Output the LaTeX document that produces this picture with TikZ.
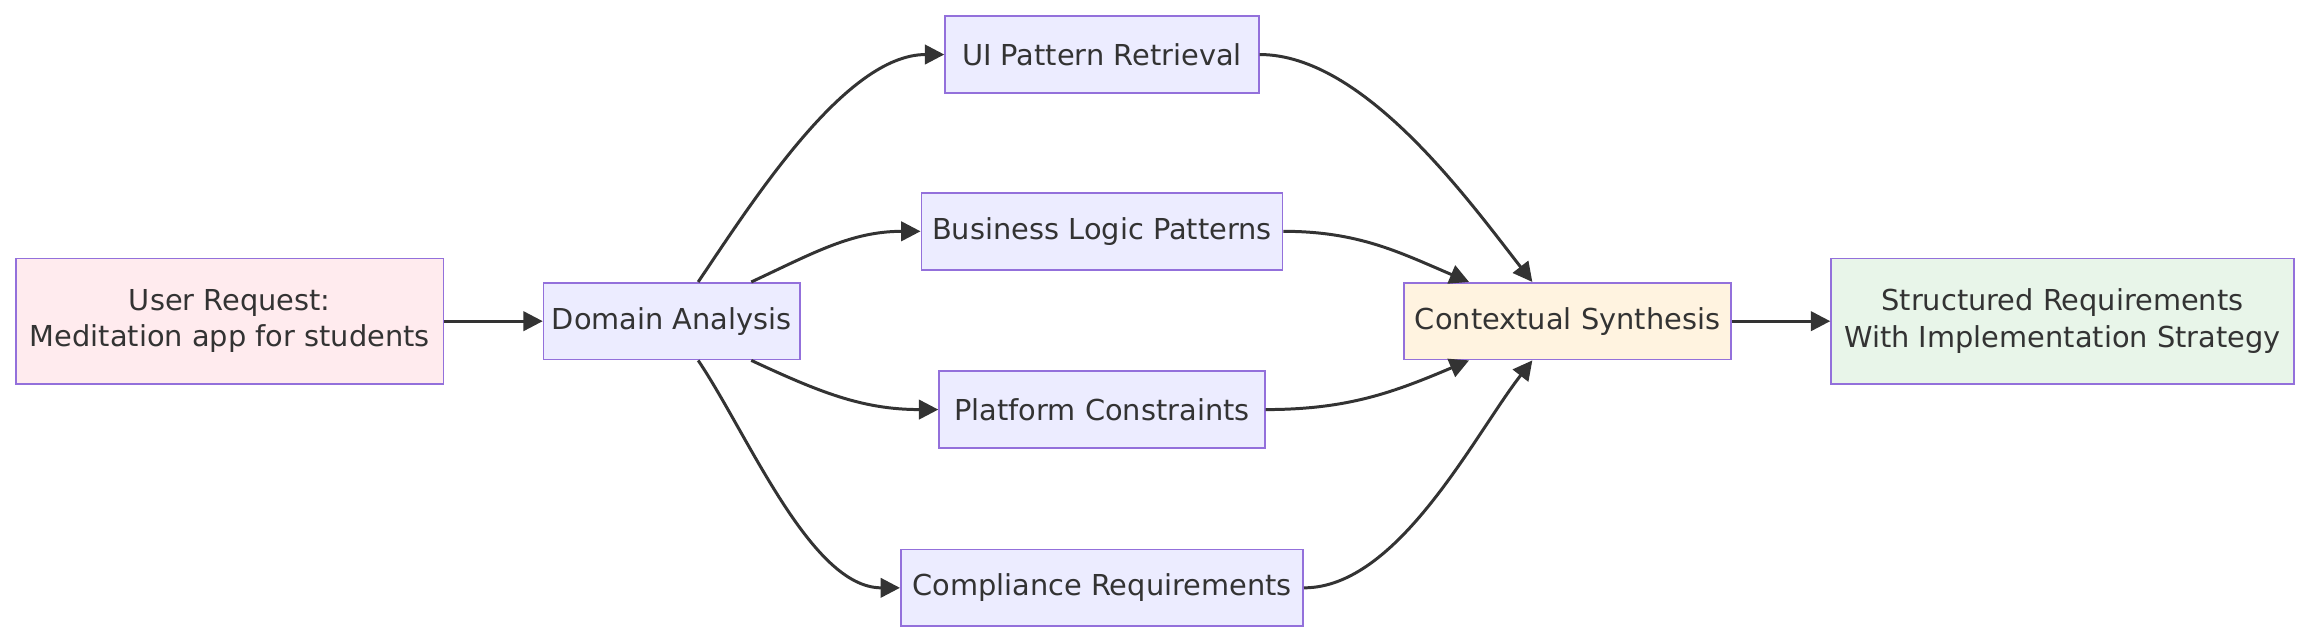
\documentclass[tikz,border=0pt]{standalone}
\usepackage{fontspec}
\setmainfont{DejaVu Sans}
\usetikzlibrary{positioning, arrows.meta}
\definecolor{edge}{HTML}{333333}
\definecolor{boxline}{HTML}{9370DB}
\definecolor{boxfill}{HTML}{ECECFF}
\definecolor{reqfill}{HTML}{FFEBEE}
\definecolor{synfill}{HTML}{FFF3E0}
\definecolor{outfill}{HTML}{E8F5E9}
\tikzset{
  box/.style={draw=boxline, fill=boxfill, line width=0.5pt, align=center,
    inner sep=0pt, minimum height=21.8pt, text=edge,
    font=\fontsize{8.2pt}{10.4pt}\selectfont},
  link/.style={draw=edge, line width=0.85pt, -{Triangle[length=5.5pt,width=5.5pt]}}
}
\begin{document}
\begin{tikzpicture}[x=0.01473cm, y=-0.01473cm]
    \useasboundingbox (0,0) rectangle (1568,437);

    % Knoten
    \node[box, fill=reqfill, minimum width=121.5pt, minimum height=35.6pt] (req) at (156,218) {User Request:\\Meditation app for students};
    \node[box, minimum width=72.9pt] (dom) at (456,218) {Domain Analysis};
    \node[box, minimum width=89.2pt] (ui) at (748,37) {UI Pattern Retrieval};
    \node[box, minimum width=102.7pt] (bl) at (748,157) {Business Logic Patterns};
    \node[box, minimum width=92.6pt] (pc) at (748,278) {Platform Constraints};
    \node[box, minimum width=114.4pt] (cr) at (748,399) {Compliance Requirements};
    \node[box, fill=synfill, minimum width=93pt] (syn) at (1064,218) {Contextual Synthesis};
    \node[box, fill=outfill, minimum width=131.6pt, minimum height=35.6pt] (out) at (1400,218) {Structured Requirements\\With Implementation Strategy};

    % Verbindungen
    \draw[link] (req) -- (dom);
    \draw[link] ([xshift=7.5pt]dom.north) to[out=56,in=180,looseness=0.75] (ui.west);
    \draw[link] ([xshift=22.6pt]dom.north) to[out=25,in=180] (bl.west);
    \draw[link] ([xshift=22.6pt]dom.south) to[out=-25,in=180] (pc.west);
    \draw[link] ([xshift=7.5pt]dom.south) to[out=-56,in=180,looseness=0.75] (cr.west);
    \draw[link] (ui.east) to[out=0,in=128,looseness=0.75] ([xshift=-10pt]syn.north);
    \draw[link] (bl.east) to[out=0,in=157] ([xshift=-28pt]syn.north);
    \draw[link] (pc.east) to[out=0,in=-157] ([xshift=-28pt]syn.south);
    \draw[link] (cr.east) to[out=0,in=-128,looseness=0.75] ([xshift=-10pt]syn.south);
    \draw[link] (syn) -- (out);
\end{tikzpicture}
\end{document}
